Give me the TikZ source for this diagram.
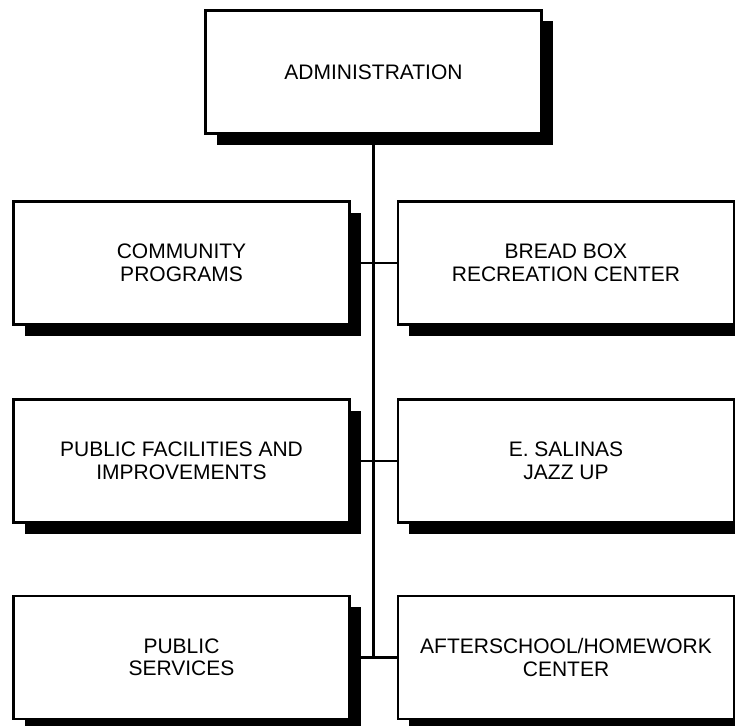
\documentclass[tikz,border=0pt]{standalone}
\usepackage{fontspec}
\setmainfont{Liberation Sans}
\usetikzlibrary{shadows}
\begin{document}
\begin{tikzpicture}[x=1pt,y=-1pt,
  unitbox/.style={draw=black, line width=2.2pt, fill=white, rectangle,
    minimum width=336pt, minimum height=123pt, inner sep=0pt,
    align=center, font=\fontsize{21}{22.5}\selectfont,
    drop shadow={shadow xshift=11pt, shadow yshift=-11pt, opacity=1, fill=black}},
  link/.style={draw=black, line width=2.2pt}]
\useasboundingbox (0,0) rectangle (735,725);

% top of the chart
\node[unitbox] (admin) at (373.5,72) {ADMINISTRATION};

% left column
\node[unitbox] (cp)  at (181.5,263)   {COMMUNITY\\PROGRAMS};
\node[unitbox] (pfi) at (181.5,461)   {PUBLIC FACILITIES AND\\IMPROVEMENTS};
\node[unitbox] (ps)  at (181.5,657.5) {PUBLIC\\SERVICES};

% right column
\node[unitbox] (bb)  at (566,263)   {BREAD BOX\\RECREATION CENTER};
\node[unitbox] (es)  at (566,461)   {E. SALINAS\\JAZZ UP};
\node[unitbox] (ah)  at (566,657.5) {AFTERSCHOOL/HOMEWORK\\CENTER};

% trunk and branches
\coordinate (trunkend) at (admin.south |- ps.east);
\draw[link] (admin.south) -- (trunkend);
\draw[link] (cp.east) -- (bb.west);
\draw[link] (pfi.east) -- (es.west);
\draw[link] (ps.east) -- (ah.west);
\end{tikzpicture}
\end{document}
